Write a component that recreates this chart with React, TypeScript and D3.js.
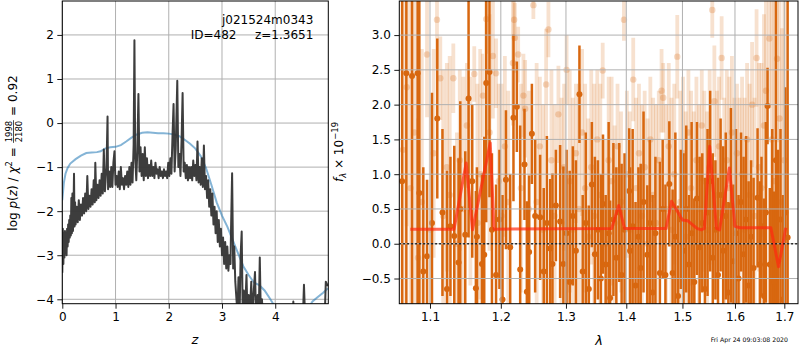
import { useEffect, useRef } from "react";
import * as d3 from "d3";

// tick values
const zTicks = [0, 1, 2, 3, 4];
const pzTicks = [-4, -3, -2, -1, 0, 1, 2];
const waveTicks = [1.1, 1.2, 1.3, 1.4, 1.5, 1.6, 1.7];
const fluxTicks = [-0.5, 0, 0.5, 1, 1.5, 2, 2.5, 3];

// log p(z) (black)
const zGrid = [0.00,0.01,0.02,0.03,0.04,0.05,0.06,0.07,0.08,0.09,0.10,0.11,0.12,0.13,0.14,0.15,0.16,0.17,0.18,0.19,0.20,0.21,0.22,0.23,0.24,0.25,0.27,0.29,0.31,0.33,0.35,0.37,0.39,0.41,0.43,0.45,0.47,0.49,0.51,0.53,0.55,0.57,0.59,0.61,0.62,0.64,0.66,0.68,0.70,0.72,0.74,0.76,0.78,0.80,0.83,0.85,0.86,0.88,0.90,0.92,0.94,0.96,0.98,1.00,1.02,1.04,1.06,1.08,1.10,1.12,1.14,1.16,1.18,1.20,1.22,1.24,1.26,1.28,1.30,1.32,1.34,1.355,1.37,1.39,1.41,1.43,1.45,1.47,1.49,1.51,1.53,1.55,1.57,1.59,1.61,1.63,1.65,1.67,1.69,1.71,1.73,1.75,1.77,1.79,1.81,1.83,1.85,1.87,1.89,1.91,1.93,1.95,1.97,1.99,2.01,2.03,2.05,2.07,2.09,2.11,2.13,2.16,2.18,2.20,2.22,2.24,2.26,2.28,2.30,2.32,2.34,2.36,2.38,2.40,2.42,2.44,2.46,2.48,2.50,2.52,2.54,2.56,2.58,2.60,2.62,2.64,2.66,2.68,2.70,2.72,2.74,2.76,2.78,2.80,2.82,2.84,2.86,2.88,2.90,2.92,2.94,2.96,2.98,3.00,3.02,3.04,3.06,3.08,3.10,3.12,3.14,3.16,3.17,3.19,3.21,3.23,3.25,3.27,3.29,3.31,3.33,3.35,3.37,3.39,3.41,3.43,3.46,3.48,3.50,3.52,3.55,3.57,3.60,3.62,3.64,3.67,3.69,3.71,3.73,3.75,3.77,4.33,4.34,4.35,4.52,4.54,4.56,4.93,4.95,4.99];
const logPz = [-3.40,-2.40,-3.20,-2.50,-3.05,-2.45,-2.95,-2.60,-3.00,-2.40,-2.80,-2.30,-2.70,-2.20,-2.60,-2.10,-2.55,-1.70,-2.50,-1.60,-2.45,-2.00,-1.15,-2.35,-1.80,-2.30,-1.90,-2.25,-1.75,-2.20,-1.85,-2.10,-1.70,-2.05,-1.60,-2.00,-1.20,-1.95,-1.65,-1.90,-1.50,-1.85,-1.30,-1.80,-0.90,-1.75,-1.40,-1.70,-1.30,-1.65,-1.15,-1.60,-0.60,-1.55,-1.00,0.15,-1.50,-1.10,-1.45,-1.00,-1.45,-0.90,-0.64,-1.40,-1.20,-1.45,-1.10,-1.50,-1.00,-1.40,-1.25,-1.50,-1.20,-1.40,-1.10,-1.45,-1.00,-1.40,-0.90,-1.35,-0.50,1.88,-0.80,-1.30,-0.60,0.66,-1.10,-0.55,-1.20,-0.70,-1.30,-0.55,-1.20,-0.80,-1.25,-0.95,-1.20,-0.85,-1.20,-1.00,-1.25,-0.90,-1.15,-1.05,-1.25,-1.00,-1.20,-1.10,-1.25,-1.05,-1.20,-1.10,-1.25,-0.90,-1.20,-0.80,-1.15,-0.30,0.43,-1.10,-0.60,0.96,-1.00,-0.70,-1.20,-0.40,0.68,-1.10,-0.90,-1.25,-0.95,-1.30,-1.00,-1.25,-1.00,-1.30,-0.85,-1.20,-0.95,-1.30,-0.42,-1.35,-1.00,-1.40,-0.80,-1.45,-0.51,-1.50,-1.20,-1.70,-1.30,-1.90,-1.50,-2.10,-1.60,-2.30,-1.90,-2.50,-2.00,-2.70,-2.20,-2.80,-2.40,-3.00,-2.60,-3.20,-2.70,-3.30,-2.80,-3.35,-3.00,-3.20,-2.40,-1.14,-3.30,-2.80,-3.60,-3.97,-4.30,-3.50,-4.40,-3.00,-2.46,-4.40,-3.80,-4.40,-3.45,-4.40,-3.90,-4.40,-3.60,-4.40,-3.75,-3.38,-4.40,-3.90,-4.40,-3.05,-4.40,-4.00,-4.40,-4.40,-4.05,-4.40,-4.40,-3.67,-4.40,-4.40,-3.60,-3.70];

// smooth curve (blue)
const zSmooth = [0.00,0.03,0.06,0.10,0.15,0.25,0.35,0.45,0.55,0.65,0.72,0.80,0.90,1.00,1.10,1.20,1.30,1.40,1.50,1.60,1.70,1.80,1.90,2.00,2.10,2.20,2.30,2.40,2.50,2.60,2.70,2.80,2.90,3.00,3.10,3.20,3.30,3.40,3.50,3.60,3.70,3.80,3.90,4.00,4.10,4.40,4.60,4.70,4.80,4.90,4.99];
const logSmooth = [-1.75,-1.35,-1.15,-1.02,-0.92,-0.82,-0.74,-0.68,-0.67,-0.66,-0.64,-0.58,-0.55,-0.54,-0.50,-0.42,-0.33,-0.26,-0.22,-0.21,-0.22,-0.23,-0.23,-0.24,-0.26,-0.30,-0.38,-0.47,-0.58,-0.75,-1.02,-1.40,-1.80,-2.10,-2.35,-2.65,-2.95,-3.25,-3.45,-3.62,-3.68,-3.80,-3.98,-4.18,-4.40,-4.60,-4.25,-4.05,-3.95,-3.85,-3.75];

// spectrum: [wavelength, flux, error]
const darkSpec = [
  [1.063,0.90,3.6],[1.0685,2.45,4.0],[1.076,2.41,4.0],[1.0834,2.45,4.0],[1.0857,0.73,3.2],[1.091,-0.40,1.5],[1.096,-0.18,1.1],[1.1027,0.30,1.87],[1.1099,1.80,1.15],[1.117,0.45,1.2],
  [1.1232,-0.65,1.7],[1.128,0.25,1.0],[1.1333,0.11,1.3],[1.1393,-0.27,1.5],[1.1417,0.50,1.55],[1.1487,0.13,1.2],[1.1534,2.09,2.0],[1.1586,0.90,1.1],[1.1638,-0.64,1.4],[1.1653,0.10,1.0],
  [1.1725,-0.29,1.3],[1.1758,-0.16,1.7],[1.1787,2.31,2.0],[1.1834,2.47,1.8],[1.187,0.20,1.1],[1.193,-0.45,1.3],[1.198,0.35,1.0],[1.2025,-0.80,1.5],[1.2076,0.92,1.0],[1.2139,-0.05,1.05],
  [1.2188,1.81,1.2],[1.2239,1.97,0.65],[1.2289,-0.37,2.07],[1.2354,1.14,0.8],[1.239,-0.69,1.3],[1.2425,-0.12,1.1],[1.2467,1.58,0.72],[1.2517,0.40,1.1],[1.2594,0.38,0.9],[1.265,-0.40,1.2],
  [1.2699,0.30,1.25],[1.275,-0.07,1.0],[1.2786,-0.29,1.3],[1.284,0.55,0.8],[1.2907,0.32,1.1],[1.2959,-0.29,1.4],[1.301,0.15,1.2],[1.306,-0.55,1.6],[1.311,0.40,1.0],[1.316,-0.10,1.3],
  [1.3217,2.15,0.7],[1.327,-0.40,1.1],[1.332,0.30,1.3],[1.337,-0.65,1.2],[1.342,0.85,0.9],[1.347,-0.15,1.4],[1.352,0.20,1.0],[1.357,-0.50,1.5],[1.3605,0.57,1.0],[1.365,-0.30,1.0],
  [1.370,0.15,1.6],[1.3725,-0.78,1.4],[1.378,0.35,1.1],[1.383,-0.20,1.3],[1.388,0.45,1.0],[1.392,-0.45,1.6],[1.397,0.20,1.1],[1.405,0.76,0.9],[1.4066,-0.10,1.2],[1.411,0.25,1.4],
  [1.416,-0.60,1.2],[1.421,0.10,1.0],[1.425,-0.35,1.5],[1.430,0.60,1.3],[1.4366,-0.16,1.0],[1.441,0.30,1.2],[1.446,-0.70,1.4],[1.451,0.15,1.1],[1.459,-0.42,1.6],[1.464,0.50,1.0],
  [1.469,-0.45,1.3],[1.476,0.86,0.9],[1.482,-0.42,1.2],[1.487,0.10,1.5],[1.492,-0.75,1.3],[1.497,0.35,1.0],[1.502,-0.10,1.4],[1.507,0.50,1.2],[1.512,-0.30,1.0],[1.517,0.15,1.6],
  [1.522,-0.55,1.2],[1.527,0.65,1.1],[1.532,-0.05,1.3],[1.537,0.30,1.0],[1.542,-0.65,1.6],[1.547,0.45,1.2],[1.552,0.90,1.3],[1.557,-0.20,1.5],[1.562,0.20,1.0],[1.567,-0.45,1.4],
  [1.572,0.70,1.1],[1.577,-0.10,1.5],[1.582,0.40,1.2],[1.587,-0.70,1.3],[1.592,0.55,1.4],[1.597,-0.25,1.1],[1.602,0.15,1.5],[1.607,-0.50,1.2],[1.612,0.60,1.0],[1.617,-0.15,1.4],
  [1.622,0.35,1.2],[1.627,-0.60,1.5],[1.632,0.10,1.1],[1.637,-0.35,1.3],[1.645,0.66,1.0],[1.6497,-0.30,1.2],[1.653,0.25,1.0],[1.658,-0.75,1.4],[1.662,0.45,1.3],[1.6653,1.98,0.55],
  [1.670,-0.30,1.1],[1.675,0.15,1.5],[1.679,-0.55,1.3],[1.6825,1.20,2.5],[1.687,-0.25,1.6],[1.692,0.35,1.3],[1.697,-0.80,1.5],[1.702,0.45,1.8],[1.7069,0.09,3.6],
];

const lightSpec = [
  [1.064,1.35,3.5],[1.069,2.25,2.0],[1.074,0.80,3.0],[1.079,1.60,2.5],[1.084,-0.20,2.0],[1.089,0.60,2.2],[1.096,2.72,0.9],[1.101,0.20,1.8],[1.105,1.30,1.5],[1.1095,3.22,0.7],
  [1.114,2.38,0.6],[1.118,0.40,2.1],[1.123,1.10,1.5],[1.127,0.70,2.0],[1.132,2.38,0.5],[1.137,0.00,1.6],[1.141,1.20,1.3],[1.146,0.50,1.9],[1.151,1.70,0.9],[1.156,0.90,1.5],
  [1.1615,2.44,0.4],[1.166,0.30,2.0],[1.170,1.00,1.8],[1.1739,2.13,0.6],[1.1787,3.23,0.5],[1.1835,1.60,1.7],[1.1884,2.70,0.9],[1.193,2.45,0.5],[1.197,0.90,1.4],[1.201,0.40,1.9],
  [1.206,1.40,1.3],[1.211,0.60,1.6],[1.218,2.60,0.9],[1.2198,3.22,0.3],[1.2209,2.96,0.5],[1.2259,2.72,0.4],[1.230,0.80,1.5],[1.2338,2.13,0.6],[1.2364,1.94,0.7],[1.242,0.50,1.7],
  [1.249,3.43,0.2],[1.254,0.60,2.0],[1.259,1.40,1.0],[1.264,0.20,1.8],[1.2687,2.29,0.8],[1.2723,3.08,0.4],[1.277,1.20,1.3],[1.282,0.40,1.6],[1.288,1.86,0.7],[1.293,0.30,1.8],
  [1.297,1.10,1.2],[1.301,2.50,0.5],[1.306,0.90,1.6],[1.311,0.20,1.9],[1.316,1.30,1.0],[1.321,0.50,1.8],[1.326,1.60,1.2],[1.331,0.80,1.5],[1.336,0.10,1.7],[1.341,1.10,1.4],
  [1.346,0.40,1.9],[1.351,1.50,1.0],[1.356,0.70,1.6],[1.360,2.49,0.4],[1.365,0.00,1.5],[1.370,1.20,1.2],[1.375,0.90,1.5],[1.380,0.30,1.4],[1.385,1.40,0.9],[1.391,0.60,1.3],
  [1.396,3.22,0.3],[1.401,1.00,1.2],[1.406,0.20,1.7],[1.412,2.36,0.6],[1.417,0.80,1.3],[1.422,1.30,1.0],[1.427,0.40,1.6],[1.432,1.10,1.1],[1.437,0.00,1.8],[1.442,1.50,0.9],
  [1.447,0.70,1.4],[1.452,0.30,1.7],[1.457,1.20,1.0],[1.462,2.20,0.6],[1.465,2.10,0.5],[1.470,0.50,1.5],[1.475,1.40,1.2],[1.480,0.20,1.9],[1.485,1.00,1.3],[1.4905,2.69,0.6],
  [1.496,0.60,1.6],[1.501,1.30,1.1],[1.506,0.10,1.8],[1.511,1.60,0.9],[1.516,0.80,1.4],[1.521,0.30,1.6],[1.526,1.20,1.2],[1.531,0.50,1.5],[1.536,1.70,0.8],[1.541,0.90,1.3],
  [1.546,0.20,1.7],[1.551,1.10,1.4],[1.556,3.36,0.4],[1.560,2.05,0.8],[1.565,0.70,1.5],[1.569,1.40,1.0],[1.574,2.67,0.6],[1.579,0.40,1.7],[1.584,1.20,1.3],[1.589,0.80,1.6],
  [1.594,1.60,1.1],[1.599,0.30,1.8],[1.604,1.30,1.0],[1.609,0.60,1.5],[1.614,1.00,1.4],[1.619,0.20,1.9],[1.624,1.50,1.1],[1.629,0.70,1.6],[1.634,2.00,0.9],[1.639,0.40,1.7],
  [1.643,2.67,0.7],[1.648,1.10,1.5],[1.653,0.80,1.8],[1.658,1.70,1.6],[1.662,2.20,1.4],[1.669,2.95,1.0],[1.674,1.50,2.2],[1.679,0.90,2.6],[1.685,2.66,1.2],[1.690,1.80,2.0],
  [1.695,0.60,2.5],[1.700,1.20,2.5],
];

// best-fit model (red)
const modelWave = [1.0737,1.133,1.150,1.159,1.1845,1.190,1.375,1.387,1.397,1.470,1.480,1.500,1.510,1.527,1.535,1.541,1.551,1.564,1.570,1.589,1.600,1.610,1.672,1.688,1.703];
const modelFlux = [0.21,0.21,1.16,0.20,1.45,0.21,0.22,0.55,0.22,0.22,0.61,0.34,0.33,0.22,0.20,0.22,1.40,0.22,0.20,1.09,0.25,0.23,0.23,-0.33,0.23];

const FONT = "DejaVu Sans, Verdana, sans-serif";

// lay out a mathtext-like label from pieces, centred on 0
const mathLabel = (g, parts) => {
  const inner = g.append("g");
  let x = 0;
  parts.forEach((p) => {
    if (p.num) {
      const size = p.size;
      const tn = inner.append("text").attr("font-size", size).attr("y", -4.5).text(p.num);
      const td = inner.append("text").attr("font-size", size).attr("y", 5.5).text(p.den);
      const w = Math.max(tn.node().getComputedTextLength(), td.node().getComputedTextLength());
      tn.attr("x", x + 1 + w / 2).attr("text-anchor", "middle");
      td.attr("x", x + 1 + w / 2).attr("text-anchor", "middle");
      inner.append("line").attr("x1", x + 0.5).attr("x2", x + w + 1.5)
        .attr("y1", -3).attr("y2", -3).attr("stroke", "black").attr("stroke-width", 0.7);
      x += w + 2;
      return;
    }
    const t = inner.append("text")
      .attr("x", x)
      .attr("y", p.dy || 0)
      .attr("font-size", p.size || 12)
      .attr("font-style", p.italic ? "italic" : "normal")
      .style("white-space", "pre")
      .text(p.text);
    x += t.node().getComputedTextLength();
  });
  inner.attr("transform", `translate(${-x / 2},0)`);
};

const App = () => {
  const ref = useRef(null);

  useEffect(() => {
    const svg = d3.select(ref.current);
    svg.selectAll("*").remove();
    svg.attr("font-family", FONT);

    // ---------------- left panel: p(z)
    const L = { x0: 62.3, x1: 328.3, y0: 1, y1: 303.7 };
    const xZ = d3.scaleLinear().domain([0, 4.997]).range([L.x0, L.x1]);
    const yZ = d3.scaleLinear().domain([-4.1, 2.77]).range([L.y1, L.y0]);

    svg.append("clipPath").attr("id", "clipL").append("rect")
      .attr("x", L.x0).attr("y", L.y0).attr("width", L.x1 - L.x0).attr("height", L.y1 - L.y0);

    const gl = svg.append("g");
    gl.selectAll("line.gx").data(zTicks).join("line")
      .attr("x1", (d) => xZ(d)).attr("x2", (d) => xZ(d)).attr("y1", L.y0).attr("y2", L.y1)
      .attr("stroke", "#b0b0b0").attr("stroke-width", 1);
    gl.selectAll("line.gy").data(pzTicks).join("line")
      .attr("x1", L.x0).attr("x2", L.x1).attr("y1", (d) => yZ(d)).attr("y2", (d) => yZ(d))
      .attr("stroke", "#b0b0b0").attr("stroke-width", 1);

    const plotL = svg.append("g").attr("clip-path", "url(#clipL)");
    const smoothLine = d3.line().x((d, i) => xZ(zSmooth[i])).y((d) => yZ(d));
    plotL.append("path").attr("d", smoothLine(logSmooth))
      .attr("fill", "none").attr("stroke", "#1f77b4").attr("stroke-opacity", 0.55).attr("stroke-width", 2);
    const pzLine = d3.line().x((d, i) => xZ(zGrid[i])).y((d) => yZ(d));
    plotL.append("path").attr("d", pzLine(logPz))
      .attr("fill", "none").attr("stroke", "#333333").attr("stroke-opacity", 0.95).attr("stroke-width", 2)
      .attr("stroke-linejoin", "round");

    const axisStyle = (g) => {
      g.select(".domain").remove();
      g.selectAll(".tick line").attr("stroke", "black").attr("stroke-width", 0.9);
      g.selectAll(".tick text").attr("font-size", 12).attr("font-family", FONT).attr("fill", "black");
    };

    svg.append("g").attr("transform", `translate(0,${L.y1})`)
      .call(d3.axisBottom(xZ).tickValues(zTicks).tickSize(5).tickPadding(3.5).tickFormat(d3.format("d")))
      .call(axisStyle);
    svg.append("g").attr("transform", `translate(${L.x0},0)`)
      .call(d3.axisLeft(yZ).tickValues(pzTicks).tickSize(5).tickPadding(3.5).tickFormat(d3.format("d")))
      .call(axisStyle);

    svg.append("rect").attr("x", L.x0).attr("y", L.y0).attr("width", L.x1 - L.x0).attr("height", L.y1 - L.y0)
      .attr("fill", "none").attr("stroke", "black").attr("stroke-width", 1);

    svg.append("text").attr("x", 313.3).attr("y", 24).attr("text-anchor", "end").attr("font-size", 12)
      .text("j021524m0343");
    svg.append("text").attr("x", 236.5).attr("y", 39).attr("text-anchor", "end").attr("font-size", 12)
      .text("ID=482");
    svg.append("text").attr("x", 313.3).attr("y", 39).attr("text-anchor", "end").attr("font-size", 12)
      .text("z=1.3651");

    svg.append("text").attr("x", 195).attr("y", 343.5).attr("text-anchor", "middle").attr("font-size", 13)
      .attr("font-style", "italic").text("z");

    const ylabL = svg.append("g").attr("transform", "translate(16.5,153) rotate(-90)");
    mathLabel(ylabL, [
      { text: "log " },
      { text: "p", italic: true },
      { text: "(" },
      { text: "z", italic: true },
      { text: ") / " },
      { text: "χ", italic: true },
      { text: "2", size: 8.5, dy: -5 },
      { text: " = " },
      { num: "1998", den: "2180", size: 8.5 },
      { text: " = 0.92" },
    ]);

    // ---------------- right panel: spectrum
    const R = { x0: 399.3, x1: 798, y0: 1, y1: 303.7 };
    const xW = d3.scaleLog().domain([1.0593, 1.7288]).range([R.x0, R.x1]);
    const yF = d3.scaleLinear().domain([-0.862, 3.49]).range([R.y1, R.y0]);

    svg.append("clipPath").attr("id", "clipR").append("rect")
      .attr("x", R.x0).attr("y", R.y0).attr("width", R.x1 - R.x0).attr("height", R.y1 - R.y0);
    const plotR = svg.append("g").attr("clip-path", "url(#clipR)");

    const orange = "#d8670f";

    // light points
    plotR.append("g").selectAll("line").data(lightSpec).join("line")
      .attr("x1", (d) => xW(d[0])).attr("x2", (d) => xW(d[0]))
      .attr("y1", (d) => yF(d[1] - d[2])).attr("y2", (d) => yF(d[1] + d[2]))
      .attr("stroke", orange).attr("stroke-opacity", 0.2).attr("stroke-width", 3.8);
    plotR.append("g").selectAll("circle").data(lightSpec).join("circle")
      .attr("cx", (d) => xW(d[0])).attr("cy", (d) => yF(d[1])).attr("r", 3.2)
      .attr("fill", orange).attr("fill-opacity", 0.25);

    // dark points
    plotR.append("g").selectAll("line").data(darkSpec).join("line")
      .attr("x1", (d) => xW(d[0])).attr("x2", (d) => xW(d[0]))
      .attr("y1", (d) => yF(d[1] - d[2])).attr("y2", (d) => yF(d[1] + d[2]))
      .attr("stroke", orange).attr("stroke-width", 2.5);
    plotR.append("g").selectAll("circle").data(darkSpec).join("circle")
      .attr("cx", (d) => xW(d[0])).attr("cy", (d) => yF(d[1])).attr("r", 3)
      .attr("fill", orange);

    // grid
    plotR.selectAll("line.gx").data(waveTicks).join("line")
      .attr("x1", (d) => xW(d)).attr("x2", (d) => xW(d)).attr("y1", R.y0).attr("y2", R.y1)
      .attr("stroke", "#b0b0b0").attr("stroke-width", 1);
    plotR.selectAll("line.gy").data(fluxTicks).join("line")
      .attr("x1", R.x0).attr("x2", R.x1).attr("y1", (d) => yF(d)).attr("y2", (d) => yF(d))
      .attr("stroke", "#b0b0b0").attr("stroke-width", 1);

    // model
    const modelLine = d3.line().x((d, i) => xW(modelWave[i])).y((d) => yF(d));
    plotR.append("path").attr("d", modelLine(modelFlux))
      .attr("fill", "none").attr("stroke", "#ff2a10").attr("stroke-opacity", 0.7).attr("stroke-width", 3)
      .attr("stroke-linejoin", "round");

    // zero line
    plotR.append("line").attr("x1", R.x0).attr("x2", R.x1).attr("y1", yF(0)).attr("y2", yF(0))
      .attr("stroke", "black").attr("stroke-width", 1.5).attr("stroke-dasharray", "1.5,2.5");

    svg.append("g").attr("transform", `translate(0,${R.y1})`)
      .call(d3.axisBottom(xW).tickValues(waveTicks).tickSize(5).tickPadding(3.5).tickFormat(d3.format(".1f")))
      .call(axisStyle);
    svg.append("g").attr("transform", `translate(${R.x0},0)`)
      .call(d3.axisLeft(yF).tickValues(fluxTicks).tickSize(5).tickPadding(3.5).tickFormat(d3.format(".1f")))
      .call(axisStyle);

    svg.append("rect").attr("x", R.x0).attr("y", R.y0).attr("width", R.x1 - R.x0).attr("height", R.y1 - R.y0)
      .attr("fill", "none").attr("stroke", "black").attr("stroke-width", 1);

    svg.append("text").attr("x", 599).attr("y", 345).attr("text-anchor", "middle").attr("font-size", 13)
      .attr("font-style", "italic").text("λ");

    const ylabR = svg.append("g").attr("transform", "translate(343,152) rotate(-90)");
    mathLabel(ylabR, [
      { text: "f", italic: true },
      { text: "λ", italic: true, size: 8.5, dy: 3 },
      { text: " × 10" },
      { text: "−19", size: 8.5, dy: -5 },
    ]);

    svg.append("text").attr("x", 788).attr("y", 341.5).attr("text-anchor", "end").attr("font-size", 6.2)
      .text("Fri Apr 24 09:03:08 2020");
  }, []);

  return (
    <div style={{ position: "absolute", left: 0, top: 0 }}>
      <svg ref={ref} width={800} height={350} style={{ display: "block", background: "white" }} />
    </div>
  );
};

export default App;
